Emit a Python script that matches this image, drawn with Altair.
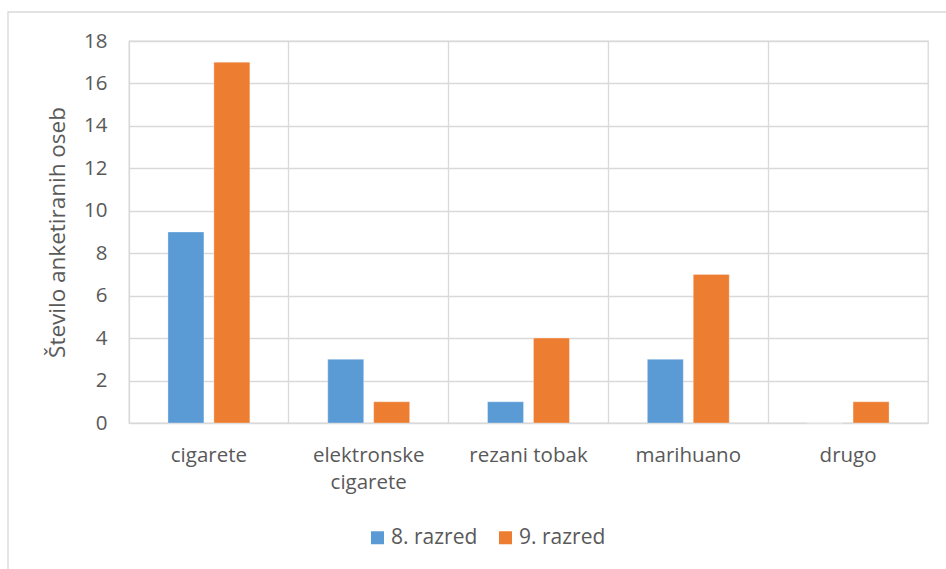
import altair as alt
import pandas as pd

# Survey counts by substance and school grade
categories = ["cigarete", "elektronske cigarete", "rezani tobak", "marihuano", "drugo"]
grades = ["8. razred", "9. razred"]
grade8 = [9, 3, 1, 3, 0]
grade9 = [17, 1, 4, 7, 1]

rows = []
for c, a, b in zip(categories, grade8, grade9):
    rows.append({"kategorija": c, "razred": grades[0], "stevilo": a})
    rows.append({"kategorija": c, "razred": grades[1], "stevilo": b})
df = pd.DataFrame(rows)

FONT = "Open Sans"
TEXT = "#595959"
GRID = "#D9D9D9"

bars = alt.Chart(df).mark_bar(stroke="white", strokeWidth=0.6, strokeOpacity=0.5).encode(
    x=alt.X(
        "kategorija:N",
        sort=categories,
        scale=alt.Scale(paddingInner=0, paddingOuter=0),
        axis=alt.Axis(
            title=None,
            labelAngle=0,
            grid=True,
            bandPosition=0,
            gridColor=GRID,
            gridWidth=1.3,
            domain=False,
            ticks=False,
            labelPadding=22,
            labelFont=FONT,
            labelFontSize=20.5,
            labelColor=TEXT,
            labelLineHeight=27,
            labelExpr="datum.label == 'elektronske cigarete' ? ['elektronske', 'cigarete'] : datum.label",
        ),
    ),
    xOffset=alt.XOffset(
        "razred:N",
        sort=grades,
        scale=alt.Scale(paddingInner=0.217, paddingOuter=0.848),
    ),
    y=alt.Y(
        "stevilo:Q",
        scale=alt.Scale(domain=[0, 18], nice=False),
        axis=alt.Axis(
            title="Število anketiranih oseb",
            values=list(range(0, 19, 2)),
            grid=True,
            gridColor=GRID,
            gridWidth=1.3,
            domain=False,
            ticks=False,
            labelPadding=22,
            labelFont=FONT,
            labelFontSize=20.5,
            labelColor=TEXT,
            titleFont=FONT,
            titleFontSize=22.5,
            titleFontWeight="normal",
            titleColor=TEXT,
            titleX=-72,
            titleY=191,
            titleAlign="center",
            titleBaseline="middle",
        ),
    ),
    color=alt.Color(
        "razred:N",
        sort=grades,
        scale=alt.Scale(domain=grades, range=["#5B9BD5", "#ED7D31"]),
        legend=alt.Legend(
            title=None,
            orient="none",
            direction="horizontal",
            legendX=238,
            legendY=486,
            symbolType="square",
            symbolSize=169,
            symbolStrokeWidth=0,
            symbolOpacity=1,
            labelFont=FONT,
            labelFontSize=21,
            labelColor=TEXT,
            labelOffset=3,
            columnPadding=17,
        ),
    ),
)

# Outer chart frame (right and bottom edges run past the canvas)
frame = alt.Chart(pd.DataFrame({"f": [0]})).mark_rect(
    fill=None, stroke=GRID, strokeWidth=1.3
).encode(
    x=alt.value(-121), x2=alt.value(840), y=alt.value(-29), y2=alt.value(560)
)

chart = alt.layer(frame, bars).properties(
    width=799,
    height=382,
    padding={"left": 129, "top": 41, "right": 18, "bottom": 146},
    autosize=alt.AutoSizeParams(type="none"),
    background="white",
).configure_view(stroke=GRID, strokeWidth=1.3)

chart.save("out.html", embed_options={"renderer": "svg", "actions": False})
